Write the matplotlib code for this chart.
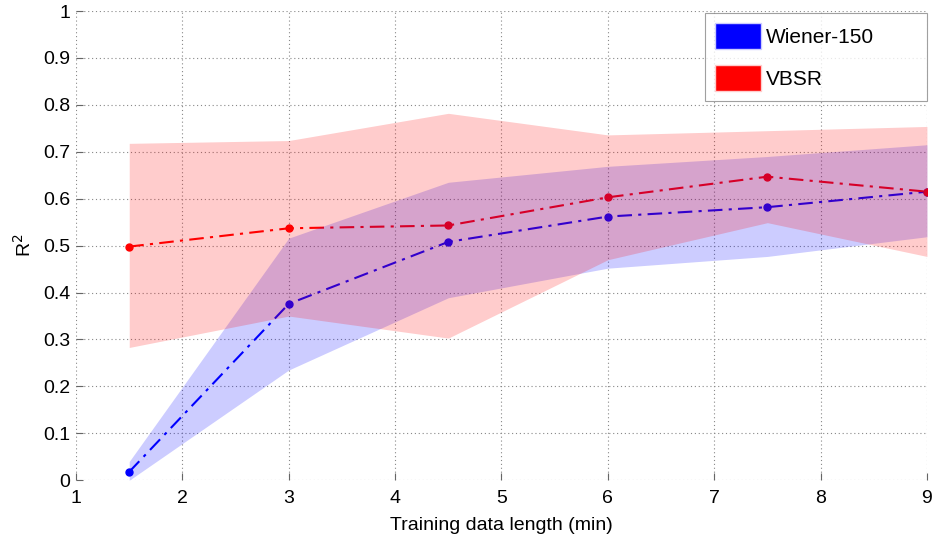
import matplotlib
matplotlib.use("Agg")
import matplotlib.pyplot as plt
from matplotlib.patches import Patch

plt.rcParams['font.family'] = ['Liberation Sans', 'DejaVu Sans']

x = [1.5, 3, 4.5, 6, 7.5, 9]
wiener_mean = [0.018, 0.376, 0.508, 0.562, 0.582, 0.615]
wiener_low = [0.0, 0.235, 0.389, 0.452, 0.477, 0.519]
wiener_high = [0.04, 0.516, 0.635, 0.669, 0.69, 0.715]
vbsr_mean = [0.498, 0.537, 0.543, 0.603, 0.647, 0.615]
vbsr_low = [0.283, 0.350, 0.303, 0.47, 0.549, 0.477]
vbsr_high = [0.718, 0.724, 0.782, 0.736, 0.745, 0.754]

xticks = [1, 2, 3, 4, 5, 6, 7, 8, 9]
yticks = [0, 0.1, 0.2, 0.3, 0.4, 0.5, 0.6, 0.7, 0.8, 0.9, 1]
ytick_labels = ['0', '0.1', '0.2', '0.3', '0.4', '0.5', '0.6', '0.7', '0.8', '0.9', '1']

fig = plt.figure(figsize=(9.33, 5.4), dpi=100)
ax = fig.add_axes([0.0815, 0.1106, 0.912, 0.869])

ax.plot(x, wiener_mean, linestyle=(0, (7, 3, 1.5, 3)), color='blue', marker='o',
        markersize=5, lw=1.5, zorder=1)
ax.plot(x, vbsr_mean, linestyle=(0, (7, 3, 1.5, 3)), color='red', marker='o',
        markersize=5, lw=1.5, zorder=1)
ax.fill_between(x, wiener_low, wiener_high, color='blue', alpha=0.2, lw=0, zorder=2)
ax.fill_between(x, vbsr_low, vbsr_high, color='red', alpha=0.2, lw=0, zorder=3)

ax.set_xlim(1, 9)
ax.set_ylim(0, 1)
ax.set_xticks(xticks)
ax.set_yticks(yticks)
ax.set_yticklabels(ytick_labels)
ax.tick_params(direction='in', labelsize=14, length=5, color='#666666', width=0.8)
ax.tick_params(axis='x', pad=7)
ax.tick_params(axis='y', pad=4)
ax.grid(True, linestyle=(0, (1, 2.5)), color='#888888', lw=0.8)
ax.set_axisbelow(True)
for s in ['top', 'right', 'left', 'bottom']:
    ax.spines[s].set_visible(False)

ax.set_xlabel('Training data length (min)', fontsize=14, labelpad=7)
ax.set_ylabel('R$^2$', fontsize=14, labelpad=6)

handles = [Patch(facecolor='blue', edgecolor='#ccccff', label='Wiener-150'),
           Patch(facecolor='red', edgecolor='#ffcccc', label='VBSR')]
leg = ax.legend(handles=handles, loc='upper left', fontsize=15, frameon=True,
                fancybox=False, edgecolor='#888888', handlelength=2.2,
                handleheight=1.5, handletextpad=0.25, borderpad=0.5,
                labelspacing=0.8, bbox_to_anchor=(0.739, 0.81, 0.261, 0.186),
                mode='expand', borderaxespad=0)
leg.get_frame().set_linewidth(0.8)
leg.set_zorder(10)

fig.savefig('out.png', dpi=100)
